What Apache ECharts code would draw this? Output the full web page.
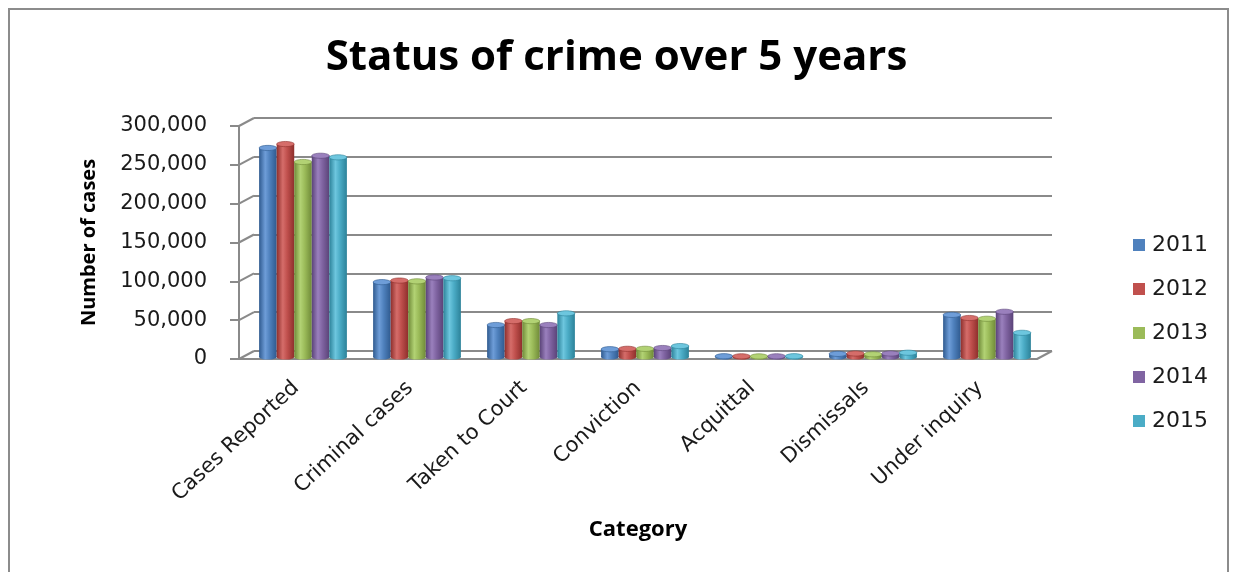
<!DOCTYPE html>
<html>
<head>
<meta charset="utf-8">
<script src="https://cdn.jsdelivr.net/npm/echarts@6/dist/echarts.min.js"></script>
<style>
html,body{margin:0;padding:0;background:#fff;}
#chart{width:1233px;height:572px;}
</style>
</head>
<body>
<div id="chart"></div>
<script>
const categories = ['Cases Reported', 'Criminal cases', 'Taken to Court', 'Conviction', 'Acquittal', 'Dismissals', 'Under inquiry'];
const years = ['2011', '2012', '2013', '2014', '2015'];
const y2011 = [268000, 96000, 41000, 10000, 1000, 4000, 54000];
const y2012 = [273000, 98000, 46000, 10500, 900, 4500, 50000];
const y2013 = [250000, 97000, 46000, 10500, 800, 3500, 49000];
const y2014 = [258000, 102000, 41000, 11500, 900, 4500, 58000];
const y2015 = [256000, 101000, 56000, 14000, 1000, 5500, 31000];
const yTicks = [0, 50000, 100000, 150000, 200000, 250000, 300000];

const seriesValues = [y2011, y2012, y2013, y2014, y2015];
const baseColors = ['#4F81BD', '#C0504D', '#9BBB59', '#8064A2', '#4BACC6'];
const darkColors = ['#2f5a8f', '#8e2f2c', '#6f8a38', '#5a4378', '#2c8299'];
const lightColors = ['#6e9dd8', '#d56d6a', '#b2d274', '#9a80bd', '#6dc6de'];

const DEPTH_X = 15, DEPTH_Y = -8;
const BAR_FRAC = 0.77;
const gray = '#8a8a8a';

const chart = echarts.init(document.getElementById('chart'));

function cylRender(k) {
  return function (params, api) {
    const ci = api.value(0), v = api.value(1);
    const top = api.coord([ci, v]);
    const base = api.coord([ci, 0]);
    const band = api.size([1, 0])[0];
    const bw = band * BAR_FRAC / 5;
    const x0 = top[0] - band * BAR_FRAC / 2 + k * bw;
    const ry = Math.min(2.6, bw / 6);
    const grad = new echarts.graphic.LinearGradient(0, 0, 1, 0, [
      {offset: 0, color: darkColors[k]},
      {offset: 0.35, color: lightColors[k]},
      {offset: 0.6, color: baseColors[k]},
      {offset: 1, color: darkColors[k]}
    ]);
    const h = Math.max(0, base[1] - top[1]);
    return {
      type: 'group',
      children: [
        {type: 'ellipse', shape: {cx: x0 + bw / 2, cy: base[1], rx: bw / 2, ry: ry}, style: {fill: grad}},
        {type: 'rect', shape: {x: x0, y: top[1], width: bw, height: h}, style: {fill: grad}},
        {type: 'ellipse', shape: {cx: x0 + bw / 2, cy: top[1], rx: bw / 2, ry: ry},
         style: {fill: lightColors[k], stroke: darkColors[k], lineWidth: 0.6}}
      ]
    };
  };
}

const series = seriesValues.map((arr, k) => ({
  name: years[k],
  type: 'custom',
  xAxisIndex: 2,
  yAxisIndex: 2,
  itemStyle: {color: baseColors[k]},
  renderItem: cylRender(k),
  encode: {x: 0, y: 1},
  data: arr.map((v, i) => [i, v]),
  z: 5
}));

// side wall / floor edge connectors drawn on the front grid
series.push({
  type: 'custom',
  xAxisIndex: 0,
  yAxisIndex: 0,
  silent: true,
  z: 1,
  renderItem: function (params, api) {
    const kind = api.value(0), v = api.value(1);
    const band = api.size([1, 0])[0];
    let p;
    if (kind === 0) {
      const c = api.coord([0, v]);
      p = [c[0] - band / 2, c[1]];
    } else {
      const c = api.coord([categories.length - 1, 0]);
      p = [c[0] + band / 2, c[1]];
    }
    return {
      type: 'line',
      shape: {x1: p[0], y1: p[1], x2: p[0] + DEPTH_X, y2: p[1] + DEPTH_Y},
      style: {stroke: gray, lineWidth: 2}
    };
  },
  data: yTicks.map(v => [0, v]).concat([[1, 0]])
});

const option = {
  backgroundColor: '#fff',
  animation: false,
  graphic: [{
    type: 'rect', shape: {x: 9, y: 9, width: 1219, height: 600},
    style: {fill: 'none', stroke: '#8c8c8c', lineWidth: 2}, silent: true
  }],
  title: {
    text: 'Status of crime over 5 years',
    left: 'center',
    top: 32,
    padding: [5, 5, 5, 19],
    textStyle: {fontFamily: 'Open Sans', fontWeight: 'bold', fontSize: 42, color: '#000'}
  },
  legend: {
    orient: 'vertical',
    left: 1128,
    top: 229,
    icon: 'rect',
    itemWidth: 12,
    itemHeight: 12,
    itemGap: 22,
    data: years,
    textStyle: {fontFamily: 'DejaVu Sans', fontSize: 22, color: '#1a1a1a', lineHeight: 22, padding: [0, 0, 0, 2]}
  },
  grid: [
    {left: 239, right: 196, top: 126, bottom: 213},
    {left: 254, right: 181, top: 118, bottom: 221},
    {left: 246, right: 189, top: 123, bottom: 215}
  ],
  xAxis: [
    {
      type: 'category', gridIndex: 0, data: categories,
      axisLine: {lineStyle: {color: gray, width: 2}},
      axisTick: {length: 6, lineStyle: {color: gray, width: 2}},
      axisLabel: {rotate: 43, margin: 26, fontFamily: 'DejaVu Sans', fontSize: 21, color: '#1a1a1a', interval: 0},
      name: 'Category', nameLocation: 'middle', nameGap: 160,
      nameTextStyle: {fontFamily: 'Open Sans', fontWeight: 'bold', fontSize: 22, color: '#000'}
    },
    {type: 'value', gridIndex: 1, min: 0, max: 1, show: false},
    {type: 'category', gridIndex: 2, data: categories, show: false}
  ],
  yAxis: [
    {
      type: 'value', gridIndex: 0, min: 0, max: 300000, interval: 50000,
      axisLine: {show: true, lineStyle: {color: gray, width: 2}},
      axisTick: {show: true, length: 9, lineStyle: {color: gray, width: 2}},
      splitLine: {show: false},
      axisLabel: {
        margin: 32, fontFamily: 'DejaVu Sans', fontSize: 21, color: '#1a1a1a',
        formatter: v => v.toLocaleString('en-US')
      },
      name: 'Number of cases', nameLocation: 'middle', nameGap: 140,
      nameTextStyle: {fontFamily: 'Open Sans', fontWeight: 'bold', fontSize: 20, color: '#000'}
    },
    {
      type: 'value', gridIndex: 1, min: 0, max: 300000, interval: 50000,
      axisLine: {show: false}, axisTick: {show: false}, axisLabel: {show: false},
      splitLine: {show: true, lineStyle: {color: gray, width: 2}}
    },
    {type: 'value', gridIndex: 2, min: 0, max: 300000, interval: 50000, show: false, splitLine: {show: false}}
  ],
  series: series
};
chart.setOption(option);
</script>
</body>
</html>
